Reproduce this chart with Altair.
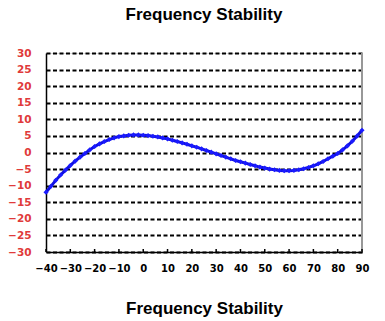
import altair as alt
import pandas as pd

temps = list(range(-40, 92, 2))
freq = [-12.0, -10.2, -8.4, -6.8, -5.3, -3.9, -2.6, -1.4, -0.3, 0.8,
        1.8, 2.6, 3.3, 3.9, 4.4, 4.8, 5.0, 5.2, 5.3, 5.3,
        5.2, 5.1, 4.9, 4.7, 4.4, 4.1, 3.7, 3.3, 2.9, 2.5,
        2.0, 1.6, 1.1, 0.6, 0.1, -0.4, -0.9, -1.4, -1.9, -2.4,
        -2.8, -3.2, -3.6, -4.0, -4.4, -4.7, -5.0, -5.2, -5.4, -5.5,
        -5.5, -5.4, -5.2, -4.9, -4.5, -4.0, -3.4, -2.7, -1.9, -1.1,
        -0.3, 0.8, 2.0, 3.4, 5.0, 6.7]
x_ticks = list(range(-40, 100, 10))
y_ticks = list(range(-30, 35, 5))

W, H = 316, 199
df = pd.DataFrame({"t": temps, "f": freq})
tick_df = pd.DataFrame({"t": x_ticks})

xs = alt.Scale(domain=[-40, 90], nice=False, zero=False)
ys = alt.Scale(domain=[-30, 30], nice=False, zero=False)

x_axis = alt.Axis(values=x_ticks, title="Frequency Stability", titlePadding=27,
                  titleFont="Liberation Sans", titleFontSize=17, titleFontWeight="bold",
                  titleColor="black", labelFont="DejaVu Sans", labelFontSize=10,
                  labelFontWeight="bold", labelColor="black", labelPadding=11,
                  labelOverlap=False, labelFlush=False,
                  ticks=False, grid=False, domainColor="black", domainWidth=1.5)
y_axis = alt.Axis(values=y_ticks, title=None, labelFont="DejaVu Sans", labelFontSize=10.5,
                  labelFontWeight="bold", labelColor="#e03a3a", labelPadding=15,
                  labelOverlap=False, labelFlush=False,
                  ticks=False, grid=True, gridColor="black", gridWidth=1.8,
                  gridDash=[4, 2.5], domainColor="black", domainWidth=1.5)

X = alt.X("t:Q", scale=xs, axis=x_axis)
Y = alt.Y("f:Q", scale=ys, axis=y_axis)

base = alt.Chart(df)
line = base.mark_line(color="#1010e0", strokeWidth=3).encode(x=X, y=Y)
pts = base.mark_point(shape="diamond", filled=True, color="#1a1aff", size=26, opacity=1).encode(x=X, y=Y)
ticks = alt.Chart(tick_df).mark_rule(color="black", strokeWidth=1.5).encode(
    x=X, y=alt.value(H - 3), y2=alt.value(H))
right = alt.Chart(tick_df).mark_rule(color="#999999", strokeWidth=1.5).encode(
    x=alt.value(W), y=alt.value(0), y2=alt.value(H))

chart = alt.layer(right, line, pts, ticks).properties(
    width=W, height=H,
    title=alt.TitleParams("Frequency Stability", font="Liberation Sans", fontSize=17,
                          fontWeight="bold", color="black", offset=24, anchor="middle"),
    autosize=alt.AutoSizeParams(type="none"),
    padding={"left": 46, "top": 53, "right": 23, "bottom": 69},
).configure_view(stroke=None).configure(background="white")

chart.save("out.html", embed_options={"renderer": "svg", "actions": False})
